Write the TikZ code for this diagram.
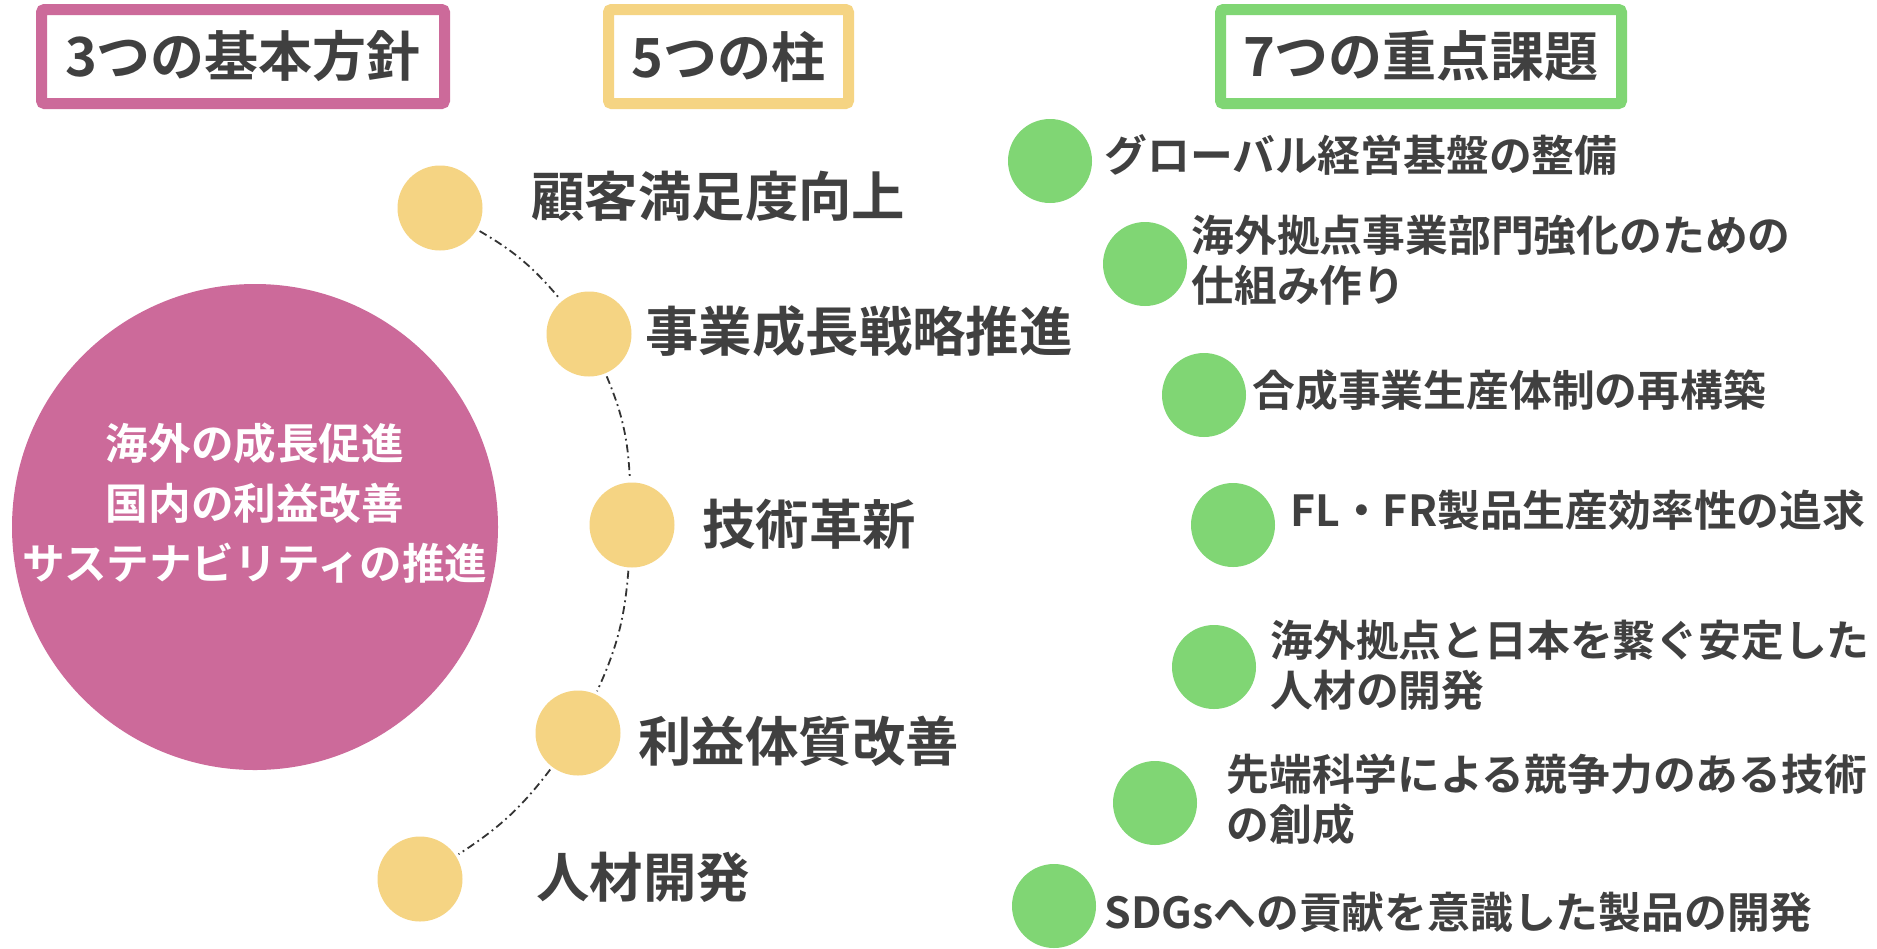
\documentclass[tikz,border=0pt]{standalone}
\usepackage{fontspec}
\setmainfont{Noto Sans CJK JP}[BoldFont={Noto Sans CJK JP Bold}]
\definecolor{pinkc}{HTML}{CC6A9A}
\definecolor{yellowc}{HTML}{F5D483}
\definecolor{greenc}{HTML}{80D674}
\definecolor{textc}{HTML}{404040}
\begin{document}
\begin{tikzpicture}[x=0.5pt,y=-0.5pt,
  titlebox/.style={draw=#1, line width=5.5pt, rounded corners=1.5pt, fill=white, inner sep=0pt,
    minimum height=47pt, font=\fontsize{27}{32}\selectfont\bfseries, text=textc},
  ydot/.style={circle, fill=yellowc, minimum size=42.5pt, inner sep=0pt},
  gdot/.style={circle, fill=greenc, minimum size=42pt, inner sep=0pt},
  pillar/.style={anchor=west, inner sep=0pt, font=\fontsize{26.7}{30}\selectfont\bfseries, text=textc},
  issue/.style={anchor=west, inner sep=0pt, align=left, font=\fontsize{21.4}{25}\selectfont\bfseries, text=textc},
  link/.style={draw=black!80, line width=0.9pt, dash pattern=on 4pt off 2pt on 0.9pt off 2pt, shorten <=1.5pt, shorten >=1.5pt}
]
\useasboundingbox (0,0) rectangle (1877,948);
\fill[white] (0,0) rectangle (1877,948);

% title boxes
\node[titlebox=pinkc, minimum width=201.5pt] (t1) at (243,56.5) {3つの基本方針};
\node[titlebox=yellowc, minimum width=120pt] (t2) at (728.5,56.5) {5つの柱};
\node[titlebox=greenc, minimum width=200.5pt] (t3) at (1421,56.5) {7つの重点課題};

% big circle
\node[circle, fill=pinkc, minimum size=243pt, inner sep=0pt] (big) at (255,527) {};
\node[align=center, inner sep=0pt, text=white, font=\fontsize{21.3}{30}\selectfont\bfseries] (bigtext) at (255,503)
  {海外の成長促進\\国内の利益改善\\サステナビリティの推進};

% pillars
\node[ydot] (y1) at (440,208) {};
\node[ydot] (y2) at (589,334) {};
\node[ydot] (y3) at (632,525) {};
\node[ydot] (y4) at (578,733) {};
\node[ydot] (y5) at (420,879) {};

\draw[link] (y1) to[bend left=10] (y2);
\draw[link] (y2) to[bend left=10] (y3);
\draw[link] (y3) to[bend left=10] (y4);
\draw[link] (y4) to[bend left=10] (y5);

\node[pillar] (p1) at (531,196) {顧客満足度向上};
\node[pillar] (p2) at (645,331) {事業成長戦略推進};
\node[pillar] (p3) at (702,524) {技術革新};
\node[pillar] (p4) at (638,741) {利益体質改善};
\node[pillar] (p5) at (536,877) {人材開発};

% issues
\node[gdot] (g1) at (1050,161) {};
\node[gdot] (g2) at (1145,264) {};
\node[gdot] (g3) at (1204,395) {};
\node[gdot] (g4) at (1233,525) {};
\node[gdot] (g5) at (1214,667) {};
\node[gdot] (g6) at (1155,803) {};
\node[gdot] (g7) at (1054,906) {};

\node[issue] (i1) at (1104,155) {グローバル経営基盤の整備};
\node[issue] (i2) at (1191,260) {海外拠点事業部門強化のための\\仕組み作り};
\node[issue] (i3) at (1252,390) {合成事業生産体制の再構築};
\node[issue] (i4) at (1290,510) {FL・FR製品生産効率性の追求};
\node[issue] (i5) at (1270,665) {海外拠点と日本を繋ぐ安定した\\人材の開発};
\node[issue] (i6) at (1226,799) {先端科学による競争力のある技術\\の創成};
\node[issue] (i7) at (1104,912) {SDGsへの貢献を意識した製品の開発};
\end{tikzpicture}
\end{document}
